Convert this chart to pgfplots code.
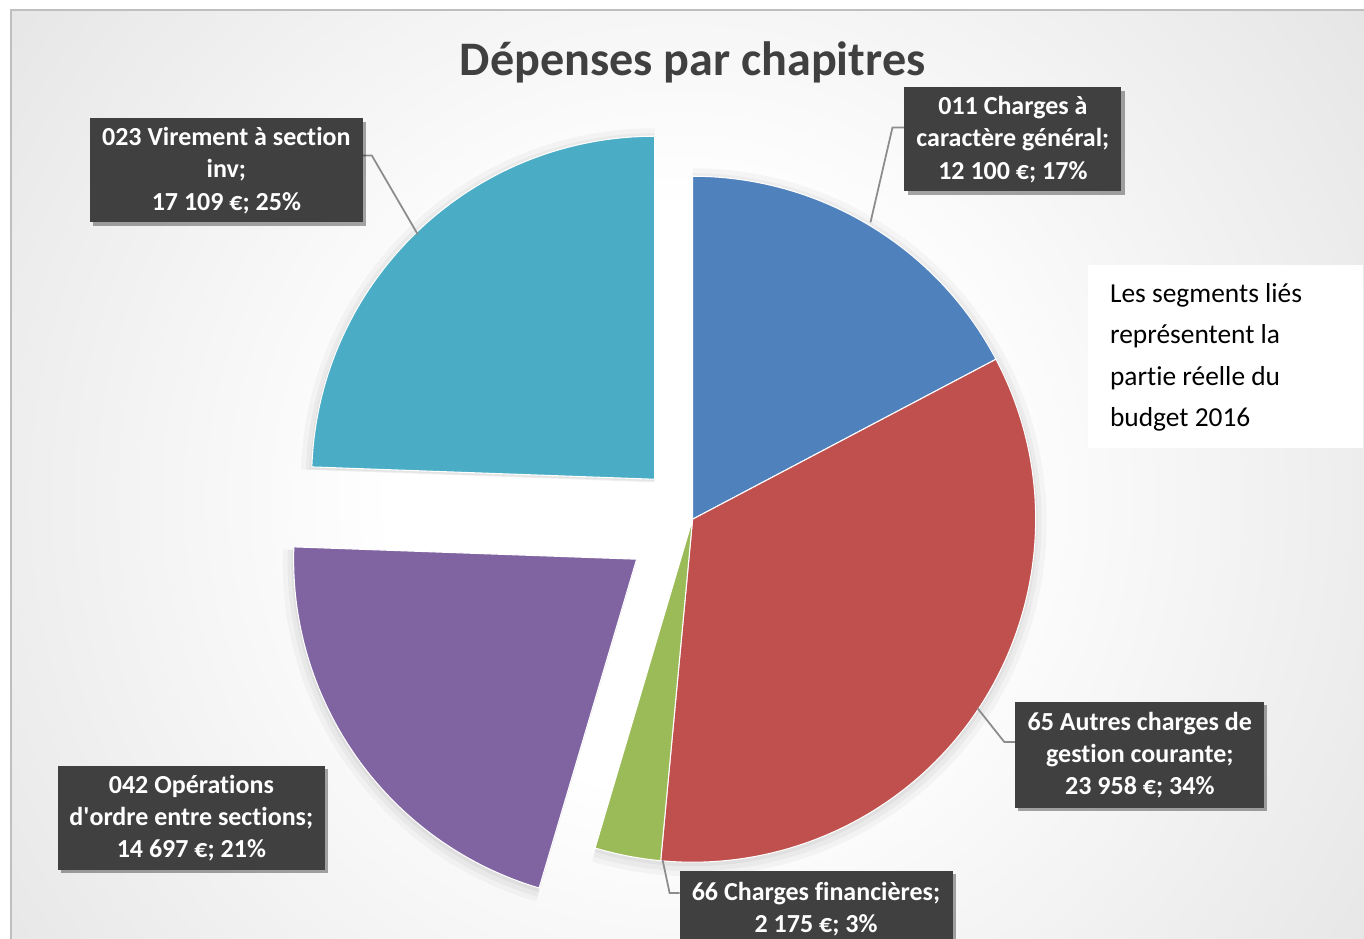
\documentclass[border=0pt]{standalone}
\usepackage{pgfplots}
\pgfplotsset{compat=1.18}
\usepackage{pgfplotstable}
\usepackage{fontspec}
\setmainfont{Carlito}[Ligatures={NoCommon}]
\usetikzlibrary{shadows}

\definecolor{cBlue}{HTML}{4F81BD}
\definecolor{cRed}{HTML}{C0504D}
\definecolor{cGreen}{HTML}{9BBB59}
\definecolor{cPurple}{HTML}{8064A2}
\definecolor{cCyan}{HTML}{4BACC6}
\definecolor{lblbg}{HTML}{404040}
\definecolor{titlec}{HTML}{404040}

\pgfdeclareradialshading{bgshade}{\pgfpoint{0bp}{0bp}}{color(0bp)=(white); color(8bp)=(white); color(22bp)=(black!9); color(29.4bp)=(black!14); color(37.2bp)=(black!19); color(46.4bp)=(black!25); color(50bp)=(black!27)}

\pgfplotstableread{
code value
011 12100
65 23958
66 2175
042 14697
023 17109
}\piedata

\pgfplotstablegetelem{0}{value}\of\piedata \let\vA\pgfplotsretval
\pgfplotstablegetelem{1}{value}\of\piedata \let\vB\pgfplotsretval
\pgfplotstablegetelem{2}{value}\of\piedata \let\vC\pgfplotsretval
\pgfplotstablegetelem{3}{value}\of\piedata \let\vD\pgfplotsretval
\pgfplotstablegetelem{4}{value}\of\piedata \let\vE\pgfplotsretval
\edef\T{\fpeval{\vA+\vB+\vC+\vD+\vE}}
\edef\aA{90}
\edef\aB{\fpeval{round(90-360*\vA/\T,4)}}
\edef\aC{\fpeval{round(90-360*(\vA+\vB)/\T,4)}}
\edef\aD{\fpeval{round(90-360*(\vA+\vB+\vC)/\T,4)}}
\edef\aE{\fpeval{round(90-360*(\vA+\vB+\vC+\vD)/\T,4)}}
\edef\aF{-270}

\newcommand\pieslice[5]{%
  \fill[#1, draw=white, line width=0.3pt] (axis cs:#2,#3) -- ++(#4:3.43cm)
    arc[start angle=#4, end angle=#5, radius=3.43cm] -- cycle;}
\newcommand\pieshadow[5]{%
  \fill[black, opacity=0.03] (axis cs:#2,#3) ++(0,-0.03cm) -- ++(#4:3.54cm)
    arc[start angle=#4, end angle=#5, radius=3.54cm] -- cycle;
  \fill[black, opacity=0.035] (axis cs:#2,#3) ++(0,-0.03cm) -- ++(#4:3.49cm)
    arc[start angle=#4, end angle=#5, radius=3.49cm] -- cycle;
  \fill[black, opacity=0.04] (axis cs:#2,#3) ++(0,-0.02cm) -- ++(#4:3.45cm)
    arc[start angle=#4, end angle=#5, radius=3.45cm] -- cycle;}

\tikzset{
  lbl/.style={fill=lblbg, text=white, font=\fontsize{7.4}{9.2}\selectfont\bfseries,
    align=center, inner sep=0pt,
    drop shadow={shadow xshift=0.9pt, shadow yshift=-0.9pt, fill=black, opacity=0.35}},
  leader/.style={draw=black!45, line width=0.5pt}
}

\begin{document}
\begin{tikzpicture}
\useasboundingbox (0,0) rectangle (13.64,9.39);
\fill[white] (0,0) rectangle (13.64,9.39);
\begin{scope}
  \clip (0.11,0) rectangle (13.64,9.29);
  \shade[shading=bgshade] (-2.2,-4.6) rectangle (15.8,13.4);
\end{scope}
\draw[black!25, line width=0.6pt] (0.11,0) -- (0.11,9.29) -- (13.64,9.29);
\begin{axis}[x=0.01cm, y=0.01cm, xmin=0, xmax=1364, ymin=0, ymax=939,
  hide axis, at={(0,0)}, anchor=south west, clip=false]
  % soft shadows of the slices
  \pieshadow{}{693}{420}{\aA}{\aB}
  \pieshadow{}{693}{420}{\aB}{\aC}
  \pieshadow{}{693}{420}{\aC}{\aD}
  \pieshadow{}{637}{380}{\aD}{\aE}
  \pieshadow{}{655}{460}{\aE}{\aF}
  % pie wedges (exploded: 042 and 023)
  \pieslice{cBlue}{693}{420}{\aA}{\aB}
  \pieslice{cRed}{693}{420}{\aB}{\aC}
  \pieslice{cGreen}{693}{420}{\aC}{\aD}
  \pieslice{cPurple}{637}{380}{\aD}{\aE}
  \pieslice{cCyan}{655}{460}{\aE}{\aF}
  % title
  \node[font=\fontsize{13.7}{16}\selectfont\bfseries, text=titlec] at (axis cs:693,877) {Dépenses par chapitres};
  % leader lines
  \draw[leader] (axis cs:905,812) -- (axis cs:893,812) -- (axis cs:871,717);
  \draw[leader] (axis cs:363,784) -- (axis cs:372,784) -- (axis cs:418,705);
  \draw[leader] (axis cs:1016,197) -- (axis cs:1005,197) -- (axis cs:978,231);
  \draw[leader] (axis cs:663,79) -- (axis cs:670,46) -- (axis cs:680,46);
  % labels
  \node[lbl, minimum width=2.17cm, minimum height=1.04cm] at (axis cs:1013.5,800) {011 Charges à\\caractère général;\\12 100 €; 17\%};
  \node[lbl, minimum width=2.73cm, minimum height=1.04cm] at (axis cs:226.5,769) {023 Virement à section\\inv;\\17 109 €; 25\%};
  \node[lbl, minimum width=2.49cm, minimum height=1.06cm] at (axis cs:1140.5,184) {65 Autres charges de\\gestion courante;\\23 958 €; 34\%};
  \node[lbl, minimum width=2.67cm, minimum height=1.04cm] at (axis cs:191.5,121) {042 Opérations\\d\textquotesingle ordre entre sections;\\14 697 €; 21\%};
  \node[lbl, minimum width=2.73cm, minimum height=0.76cm] at (axis cs:816.5,30) {66 Charges financières;\\2 175 €; 3\%};
  % note box
  \fill[white] (axis cs:1089,491) rectangle (axis cs:1364,674);
  \node[anchor=west, align=left, font=\fontsize{7.8}{11.7}\selectfont, inner sep=0pt] at (axis cs:1110,582) {Les segments liés\\représentent la\\partie réelle du\\budget 2016};
\end{axis}
\end{tikzpicture}
\end{document}
